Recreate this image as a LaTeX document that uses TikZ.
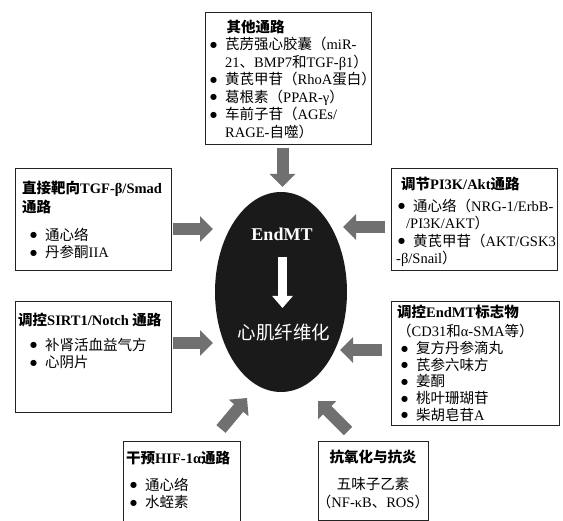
\documentclass[tikz,border=0pt]{standalone}
\usepackage{fontspec}
\setmainfont{Liberation Serif}
\newfontfamily\cjk{Noto Sans CJK SC}
\newfontfamily\dv{DejaVu Sans}
\usetikzlibrary{arrows.meta,shapes.geometric}
\definecolor{agray}{RGB}{112,112,112}
\definecolor{efill}{RGB}{26,26,26}
\definecolor{bline}{RGB}{35,35,35}
\newcommand\C[1]{{\cjk #1}}
\newcommand\bu{\makebox[15pt][l]{\raisebox{2.4pt}{\dv\fontsize{8}{0}\selectfont ●}}}
\begin{document}
\begin{tikzpicture}[x=1pt,y=-1pt,
  box/.style={draw=bline, line width=1.4pt, rectangle, inner sep=0pt, anchor=north west},
  txt/.style={anchor=north west, inner sep=0pt, align=left, font=\fontsize{14.5}{17.5}\selectfont},
  fat/.style={agray, line width=12pt, -{Triangle[width=25pt,length=13pt]}},
  wfat/.style={white, line width=9pt, -{Triangle[width=20pt,length=12pt]}},
]
\useasboundingbox (0,0) rectangle (563,521);
\fill[white] (0,0) rectangle (563,521);

% boxes
\node[box, minimum width=166pt, minimum height=132pt] (top) at (205,12) {};
\node[box, minimum width=156pt, minimum height=102pt] (l1) at (15,168) {};
\node[box, minimum width=156pt, minimum height=111pt] (l2) at (15,301) {};
\node[box, minimum width=166pt, minimum height=102pt] (r1) at (391,168) {};
\node[box, minimum width=168pt, minimum height=124pt] (r2) at (391,301) {};
\node[box, minimum width=117pt, minimum height=90pt] (bl) at (123,441) {};
\node[box, minimum width=110pt, minimum height=79pt] (br) at (318,441) {};

% texts
\node[txt] (topt) at (210,19.5) {\hspace*{16.5pt}\textbf{\C{其他通路}}\\
\bu\C{芪苈强心胶囊（}miR-\\
\hspace*{15pt}21\C{、}BMP7\C{和}TGF-β1\C{）}\\
\bu\C{黄芪甲苷（}RhoA\C{蛋白）}\\
\bu\C{葛根素（}PPAR-γ\C{）}\\
\bu\C{车前子苷（}AGEs/\\
\hspace*{15pt}RAGE-\C{自噬）}};

\node[txt] (l1t) at (22,180.5) {\textbf{\C{直接靶向}TGF-β/Smad}\\[1.5pt]
\textbf{\C{通路}}\\[10.5pt]
\hspace*{8pt}\bu\C{通心络}\\
\hspace*{8pt}\bu\C{丹参酮}IIA};

\node[txt] (l2t) at (18,312.5) {\textbf{\C{调控}SIRT1/Notch \C{通路}}\\[7.5pt]
\hspace*{12pt}\bu\C{补肾活血益气方}\\
\hspace*{12pt}\bu\C{心阴片}};

\node[txt] (r1t) at (396,176.5) {\hspace*{5pt}\textbf{\C{调节}PI3K/Akt\C{通路}}\\[4.5pt]
\hspace*{2pt}\bu\C{通心络（}NRG-1/ErbB-\\
\hspace*{10pt}/PI3K/AKT\C{）}\\
\hspace*{2pt}\bu\C{黄芪甲苷（}AKT/GSK3\\
-β/Snail\C{）}};

\node[txt, font=\fontsize{14.5}{16.7}\selectfont] (r2t) at (397,304.5) {\textbf{\C{调控}EndMT\C{标志物}}\\[3pt]
\C{（}CD31\C{和}α-SMA\C{等）}\\
\hspace*{4pt}\bu\C{复方丹参滴丸}\\
\hspace*{4pt}\bu\C{芪参六味方}\\
\hspace*{4pt}\bu\C{姜酮}\\
\hspace*{4pt}\bu\C{桃叶珊瑚苷}\\
\hspace*{4pt}\bu\C{柴胡皂苷}A};

\node[txt] (blt) at (126,450.5) {\textbf{\C{干预}HIF-1α\C{通路}}\\[9.5pt]
\hspace*{4pt}\bu\C{通心络}\\
\hspace*{4pt}\bu\C{水蛭素}};

\node[txt, anchor=north, align=center] (brt) at (373,449.5) {\textbf{\C{抗氧化与抗炎}}\\[10pt]
\C{五味子乙素}\\
\C{（}NF-κB\C{、}ROS\C{）}};

% core ellipse
\node[ellipse, fill=efill, minimum width=132pt, minimum height=200pt, inner sep=0pt] (core) at (281,292) {};
\node[white, inner sep=0pt, font=\bfseries\fontsize{18}{18}\selectfont] (endmt) at (282,234) {EndMT};
\node[white, inner sep=0pt, font=\cjk\fontsize{18.5}{19}\selectfont] (fib) at (284,333) {心肌纤维化};
\coordinate (w1) at (282.5,257);
\coordinate (w2) at (282.5,308);
\draw[wfat] (w1) -- (w2);

% arrows
\coordinate (a1) at (282.5,148); \coordinate (b1) at (282.5,187);
\coordinate (a2) at (173,229);   \coordinate (b2) at (213,229);
\coordinate (a3) at (173,343);   \coordinate (b3) at (213,343);
\coordinate (a4) at (385,227);   \coordinate (b4) at (343,227);
\coordinate (a5) at (382,350);   \coordinate (b5) at (340,350);
\coordinate (a6) at (221,429);   \coordinate (b6) at (247,398);
\coordinate (a7) at (348,431);   \coordinate (b7) at (318,401);
\foreach \i in {1,...,7} {\draw[fat] (a\i) -- (b\i);}
\end{tikzpicture}
\end{document}
